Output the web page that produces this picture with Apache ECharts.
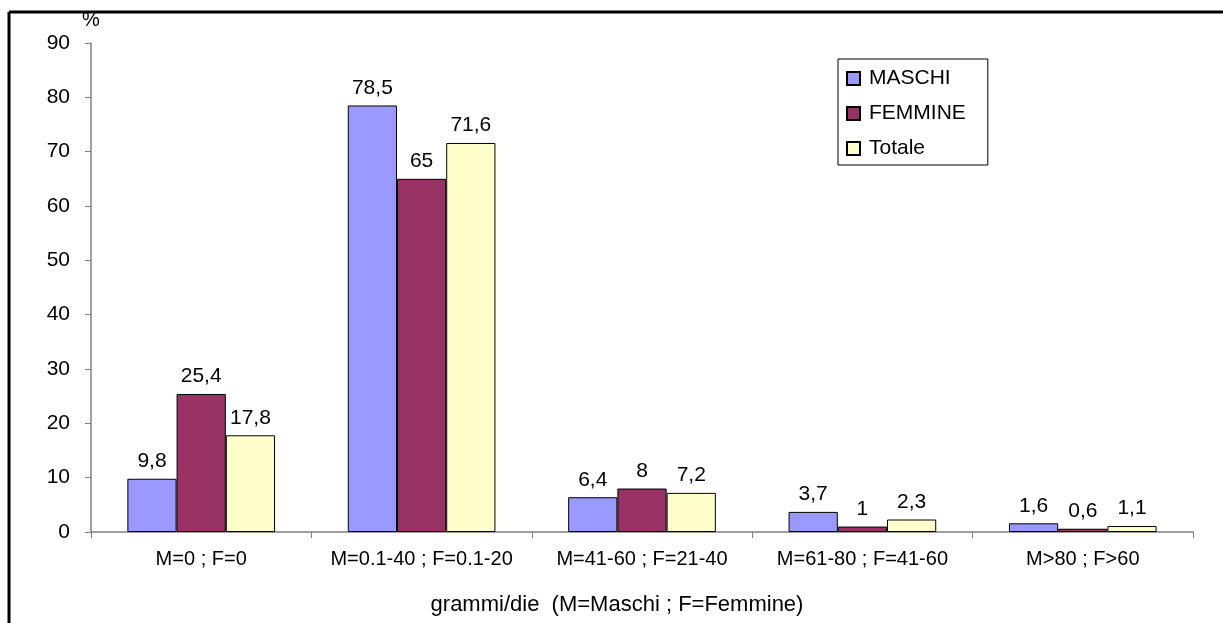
<!DOCTYPE html>
<html>
<head>
<meta charset="utf-8">
<script src="https://cdn.jsdelivr.net/npm/echarts@6/dist/echarts.min.js"></script>
<style>
  html, body { margin: 0; padding: 0; background: #fff; }
  #chart { width: 1223px; height: 623px; }
</style>
</head>
<body>
<div id="chart"></div>
<script>
// dati
var categories = ['M=0 ; F=0', 'M=0.1-40 ; F=0.1-20', 'M=41-60 ; F=21-40', 'M=61-80 ; F=41-60', 'M>80 ; F>60'];
var maschi = [9.8, 78.5, 6.4, 3.7, 1.6];
var femmine = [25.4, 65, 8, 1, 0.6];
var totale = [17.8, 71.6, 7.2, 2.3, 1.1];
var yTicks = [0, 10, 20, 30, 40, 50, 60, 70, 80, 90];

var font = 'Liberation Sans, Arial, sans-serif';

function serie(name, data, color) {
  return {
    name: name,
    type: 'bar',
    data: data,
    barGap: '0%',
    barCategoryGap: '33%',
    itemStyle: { color: color, borderColor: '#000', borderWidth: 1 },
    label: {
      show: true,
      position: 'top',
      distance: 7,
      color: '#000',
      fontFamily: font,
      fontSize: 21,
      formatter: function (p) { return String(p.value).replace('.', ','); }
    }
  };
}

var chart = echarts.init(document.getElementById('chart'));
chart.setOption({
  animation: false,
  backgroundColor: '#fff',
  textStyle: { fontFamily: font },
  grid: { left: 91, right: 30, top: 43, bottom: 91 },
  legend: {
    orient: 'vertical',
    left: 838,
    top: 59,
    itemWidth: 13,
    itemHeight: 13,
    itemGap: 14,
    padding: [9, 22, 6, 8],
    borderColor: '#000',
    borderWidth: 1,
    textStyle: { fontSize: 21, color: '#000', fontFamily: font, padding: [0, 0, 0, 4] },
    data: [
      { name: 'MASCHI', icon: 'rect' },
      { name: 'FEMMINE', icon: 'rect' },
      { name: 'Totale', icon: 'rect' }
    ]
  },
  xAxis: {
    type: 'category',
    data: categories,
    axisLine: { lineStyle: { color: '#808080', width: 1.5 } },
    axisTick: { show: true, length: 6, lineStyle: { color: '#808080' } },
    axisLabel: { color: '#000', fontSize: 20, fontFamily: font, margin: 17, interval: 0, hideOverlap: false }
  },
  yAxis: {
    type: 'value',
    min: yTicks[0],
    max: yTicks[yTicks.length - 1],
    interval: 10,
    splitLine: { show: false },
    axisLine: { show: true, lineStyle: { color: '#808080', width: 1.5 } },
    axisTick: { show: true, length: 6, lineStyle: { color: '#808080' } },
    axisLabel: { color: '#000', fontSize: 21, fontFamily: font, margin: 21 }
  },
  graphic: [
    { type: 'line', shape: { x1: 9, y1: 12, x2: 1223, y2: 12 }, style: { stroke: '#000', lineWidth: 3 } },
    { type: 'line', shape: { x1: 9, y1: 12, x2: 9, y2: 623 }, style: { stroke: '#000', lineWidth: 3 } },
    { type: 'text', left: 82, top: 10, style: { text: '%', fontSize: 20, fill: '#000', fontFamily: font } },
    { type: 'text', x: 617, y: 594, style: { text: 'grammi/die  (M=Maschi ; F=Femmine)', fontSize: 22, fill: '#000', fontFamily: font, textAlign: 'center' } }
  ],
  series: [
    serie('MASCHI', maschi, '#9999FF'),
    serie('FEMMINE', femmine, '#993366'),
    serie('Totale', totale, '#FFFFCC')
  ]
});
</script>
</body>
</html>
